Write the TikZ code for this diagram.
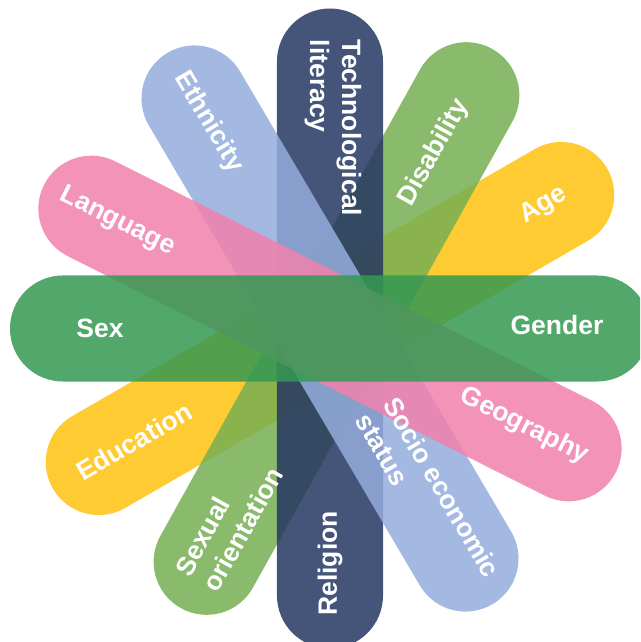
\documentclass[tikz,border=0pt]{standalone}
\usepackage{fontspec}
\setmainfont{Liberation Sans}

% petal colours (tuned for 85% fill opacity on white)
\definecolor{petalNavy}{RGB}{37,55,98}
\definecolor{petalBlue}{RGB}{148,173,221}
\definecolor{petalPink}{RGB}{241,129,172}
\definecolor{petalOlive}{RGB}{118,175,82}
\definecolor{petalYellow}{RGB}{255,194,15}
\definecolor{petalGreen}{RGB}{52,153,81}

\tikzset{
  petal/.style={fill=#1, fill opacity=0.85},
  tag/.style={text=white, font=\fontsize{26.5}{32}\selectfont\bfseries, inner sep=0pt},
}

\begin{document}
\begin{tikzpicture}[x=1pt,y=1pt]
  \useasboundingbox (-330,-313.5) rectangle (310,328.5);
  \fill[white] (-330,-313.5) rectangle (310,328.5);
  \clip (-330,-313.5) rectangle (310,328.5);

  % six stadium-shaped petals crossing near the origin, back to front
  \foreach \ang/\dx/\col in {30/0/petalYellow, 60.9/6.5/petalOlive, 90/0/petalNavy,
                             120.5/0/petalBlue, 153.34/0/petalPink, 0/0/petalGreen}
    \fill[petal=\col, shift={(\dx,0)}, rotate=\ang, rounded corners=52.9]
      (-320,-53) rectangle (320,53);

  % labels at both ends of every petal
  \node[tag, rotate=-90, align=left] (techlit) at (3,200.5) {Technological\\literacy};
  \node[tag, rotate=90] (religion) at (0,-235) {Religion};
  \node[tag] (sex) at (-230,0) {Sex};
  \node[tag] (gender) at (227,3) {Gender};
  \node[tag, rotate=-59.5] (ethnicity) at (120.5:239) {Ethnicity};
  \node[tag, rotate=-59.5, align=left] (ses) at (-59.5:193.5) {Socio economic\\status};
  \node[tag, rotate=-26.66] (language) at (153.34:238) {Language};
  \node[tag, rotate=-26.66] (geography) at (-26.66:217.6) {Geography};
  \node[tag, rotate=60.9] (disability) at ([shift={(6.5,0)}]60.9:201) {Disability};
  \node[tag, rotate=60.9, align=left] (sexor) at ([shift={(6.5,0)}]240.9:221) {Sexual\\orientation};
  \node[tag, rotate=30] (age) at (30:246.6) {Age};
  \node[tag, rotate=30] (education) at (210:226) {Education};
\end{tikzpicture}
\end{document}
